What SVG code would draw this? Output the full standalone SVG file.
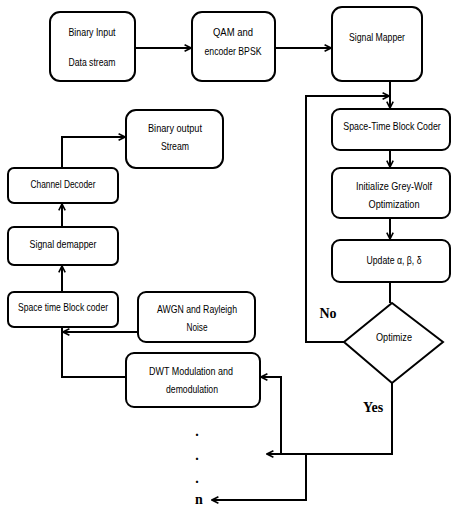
<svg xmlns="http://www.w3.org/2000/svg" width="452" height="506" viewBox="0 0 452 506">
<style>
.box{fill:#fff;stroke:#000;stroke-width:2}
.t{font-family:"Liberation Sans",Arial,sans-serif;font-size:11px;fill:#000;text-anchor:middle}
.b{font-family:"Liberation Serif","Times New Roman",serif;font-size:14px;font-weight:bold;fill:#000;text-anchor:middle}
.c{fill:none;stroke:#000;stroke-width:2}
</style>
<defs>
<marker id="ah" viewBox="0 0 10 10" refX="9" refY="5" markerWidth="8" markerHeight="8" orient="auto" markerUnits="userSpaceOnUse">
<path d="M1,1 L9,5 L1,9" fill="none" stroke="#000" stroke-width="2"/>
</marker>
</defs>
<rect width="452" height="506" fill="#fff"/>
<g id="connectors">
<path class="c" d="M135,48 H191" marker-end="url(#ah)"/>
<path class="c" d="M275,48 H331" marker-end="url(#ah)"/>
<path class="c" d="M390,81 V108" marker-end="url(#ah)"/>
<path class="c" d="M344,342 H306 V96 H389" marker-end="url(#ah)"/>
<path class="c" d="M390,150 V167" marker-end="url(#ah)"/>
<path class="c" d="M390,218 V239" marker-end="url(#ah)"/>
<path class="c" d="M390,282 V303"/>
<path class="c" d="M392,383 V454 H267" marker-end="url(#ah)"/>
<path class="c" d="M281,454 V377 H261" marker-end="url(#ah)"/>
<path class="c" d="M306,454 V500 H212" marker-end="url(#ah)"/>
<path class="c" d="M126,377 H62 V327"/>
<path class="c" d="M138,332 H63" marker-end="url(#ah)"/>
<path class="c" d="M62,292 V266" marker-end="url(#ah)"/>
<path class="c" d="M62,227 V204" marker-end="url(#ah)"/>
<path class="c" d="M62,168 V137 H125" marker-end="url(#ah)"/>
</g>
<g id="binary-input">
<rect class="box" x="50" y="12" width="85" height="69" rx="10"/>
<text class="t" x="92" y="36" textLength="47" lengthAdjust="spacingAndGlyphs">Binary Input</text>
<text class="t" x="92" y="66" textLength="47" lengthAdjust="spacingAndGlyphs">Data stream</text>
</g>
<g id="qam">
<rect class="box" x="192" y="12" width="83" height="69" rx="10"/>
<text class="t" x="233" y="36" textLength="40" lengthAdjust="spacingAndGlyphs">QAM and</text>
<text class="t" x="233" y="55" textLength="57" lengthAdjust="spacingAndGlyphs">encoder  BPSK</text>
</g>
<g id="signal-mapper">
<rect class="box" x="332" y="7" width="90" height="74" rx="10"/>
<text class="t" x="377" y="41" textLength="56" lengthAdjust="spacingAndGlyphs">Signal Mapper</text>
</g>
<g id="stbc">
<rect class="box" x="332" y="109" width="118" height="41" rx="8"/>
<text class="t" transform="translate(392,130) scale(0.8,1)">Space-Time Block Coder</text>
</g>
<g id="init-gwo">
<rect class="box" x="332" y="168" width="118" height="50" rx="8"/>
<text class="t" x="394" y="190" textLength="76" lengthAdjust="spacingAndGlyphs">Initialize Grey-Wolf</text>
<text class="t" x="394" y="208" textLength="51" lengthAdjust="spacingAndGlyphs">Optimization</text>
</g>
<g id="update">
<rect class="box" x="332" y="240" width="118" height="42" rx="8"/>
<text class="t" x="394" y="264" textLength="55" lengthAdjust="spacingAndGlyphs">Update α, β, δ</text>
</g>
<g id="optimize">
<polygon class="box" points="392,303 443,342 392,383 344,342"/>
<text class="t" x="394" y="341" textLength="36" lengthAdjust="spacingAndGlyphs">Optimize</text>
</g>
<g id="label-no"><text class="b" x="328" y="318">No</text></g>
<g id="label-yes"><text class="b" x="373" y="412">Yes</text></g>
<g id="binary-output">
<rect class="box" x="126" y="110" width="97" height="58" rx="10"/>
<text class="t" x="175" y="132" textLength="54" lengthAdjust="spacingAndGlyphs">Binary output</text>
<text class="t" x="175" y="150" textLength="28" lengthAdjust="spacingAndGlyphs">Stream</text>
</g>
<g id="channel-decoder">
<rect class="box" x="8" y="168" width="110" height="35" rx="6"/>
<text class="t" x="63" y="188" textLength="65" lengthAdjust="spacingAndGlyphs">Channel  Decoder</text>
</g>
<g id="signal-demapper">
<rect class="box" x="8" y="227" width="110" height="38" rx="6"/>
<text class="t" x="63" y="248" textLength="67" lengthAdjust="spacingAndGlyphs">Signal demapper</text>
</g>
<g id="stbc-rx">
<rect class="box" x="8" y="292" width="110" height="35" rx="6"/>
<text class="t" x="63" y="311" textLength="90" lengthAdjust="spacingAndGlyphs">Space time Block coder</text>
</g>
<g id="awgn">
<rect class="box" x="138" y="292" width="117" height="50" rx="8"/>
<text class="t" x="197" y="313" textLength="80" lengthAdjust="spacingAndGlyphs">AWGN and Rayleigh</text>
<text class="t" x="197" y="331" textLength="21" lengthAdjust="spacingAndGlyphs">Noise</text>
</g>
<g id="dwt">
<rect class="box" x="126" y="353" width="134" height="54" rx="8"/>
<text class="t" x="191" y="375" textLength="84" lengthAdjust="spacingAndGlyphs">DWT Modulation and</text>
<text class="t" x="192" y="393" textLength="52" lengthAdjust="spacingAndGlyphs">demodulation</text>
</g>
<g id="ellipsis">
<text class="b" x="197" y="436">.</text>
<text class="b" x="197" y="460">.</text>
<text class="b" x="197" y="483">.</text>
<text class="b" x="199" y="504">n</text>
</g>
</svg>
